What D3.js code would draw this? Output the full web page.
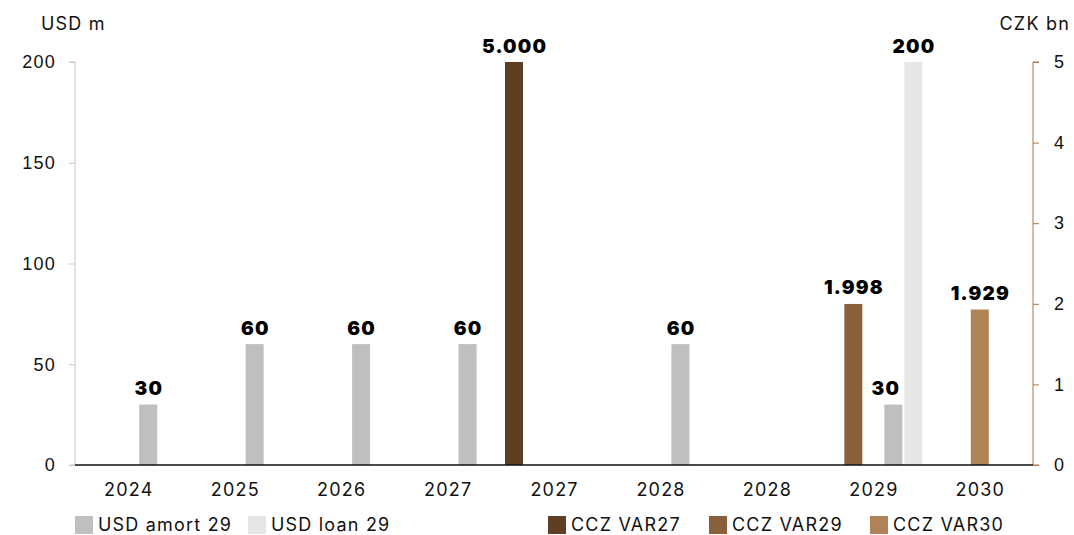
<!DOCTYPE html>
<html>
<head>
<meta charset="utf-8">
<script src="https://cdn.jsdelivr.net/npm/d3@7"></script>
<style>
  html, body { margin: 0; padding: 0; background: #fff; }
  svg { display: block; font-family: Inter, "Noto Sans", sans-serif; }
  .lbl { font-size: 18px; letter-spacing: 1.2px; fill: #111; }
</style>
</head>
<body>
<svg id="chart" width="1074" height="535"></svg>
<script>
// Categories along the x axis (years repeat for separate bond/loan slots)
const categories = ["2024", "2025", "2026", "2027", "2027", "2028", "2028", "2029", "2030"];

// USD series (left axis, USD m); null = no bar
const usdAmort29 = [30, 60, 60, 60, null, 60, null, 30, null];
const usdLoan29  = [null, null, null, null, null, null, null, 200, null];

// CZK series (right axis, CZK bn)
const cczVar27 = [null, null, null, null, 5.000, null, null, null, null];
const cczVar29 = [null, null, null, null, null, null, null, 1.998, null];
const cczVar30 = [null, null, null, null, null, null, null, null, 1.929];

// Axis ticks
const leftTicks  = [0, 50, 100, 150, 200];
const rightTicks = [0, 1, 2, 3, 4, 5];

const series = [
  { key: "CCZ VAR27",    values: cczVar27,   axis: "right", color: "#5f3f23", fmt: d3.format(".3f") },
  { key: "CCZ VAR29",    values: cczVar29,   axis: "right", color: "#8a603c", fmt: d3.format(".3f") },
  { key: "CCZ VAR30",    values: cczVar30,   axis: "right", color: "#b08258", fmt: d3.format(".3f") },
  { key: "USD amort 29", values: usdAmort29, axis: "left",  color: "#bfbfbf", fmt: d3.format("d") },
  { key: "USD loan 29",  values: usdLoan29,  axis: "left",  color: "#e6e6e6", fmt: d3.format("d") }
];

const svg = d3.select("#chart");
const plotLeft = 75, plotRight = 1033, plotTop = 62, plotBottom = 465;

const x = d3.scaleBand().domain(d3.range(categories.length)).range([plotLeft, plotRight]).padding(0);
const inner = d3.scaleBand().domain(series.map(s => s.key)).range([-50, 50]).padding(0);
const yL = d3.scaleLinear().domain([0, 200]).range([plotBottom, plotTop]);
const yR = d3.scaleLinear().domain([0, 5]).range([plotBottom, plotTop]);

const barW = 18;

// Left axis
const gL = svg.append("g").attr("transform", `translate(${plotLeft},0)`)
  .call(d3.axisLeft(yL).tickValues(leftTicks).tickSize(6).tickPadding(13).tickFormat(d3.format("d")));
gL.select(".domain").attr("stroke", "#c8c8c8").attr("d", `M-6,${plotTop}H0V${plotBottom}H-6`);
gL.selectAll(".tick line").attr("stroke", "#c8c8c8");
gL.selectAll(".tick text").attr("class", "lbl").attr("font-size", null).attr("font-family", null).attr("fill", null);

// Right axis
const gR = svg.append("g").attr("transform", `translate(${plotRight},0)`)
  .call(d3.axisRight(yR).tickValues(rightTicks).tickSize(6).tickPadding(15).tickFormat(d3.format("d")));
gR.select(".domain").attr("stroke", "#a77a4f").attr("d", `M6,${plotTop}H0V${plotBottom}H6`);
gR.selectAll(".tick line").attr("stroke", "#a77a4f");
gR.selectAll(".tick text").attr("class", "lbl").attr("font-size", null).attr("font-family", null).attr("fill", null);

// Bars and value labels
series.forEach(s => {
  const y = s.axis === "left" ? yL : yR;
  const data = s.values.map((v, i) => ({ i, v })).filter(d => d.v != null);
  const cx = d => x(d.i) + x.bandwidth() / 2 + inner(s.key) + inner.bandwidth() / 2;
  // a label whose neighbour bar to the right is taller gets nudged left
  const nudge = d => {
    const next = series[series.indexOf(s) + 1];
    if (!next || next.values[d.i] == null) return 0;
    const ny = next.axis === "left" ? yL : yR;
    return ny(next.values[d.i]) < y(d.v) ? -8 : 0;
  };
  svg.append("g").selectAll("rect").data(data).join("rect")
    .attr("x", d => cx(d) - barW / 2)
    .attr("y", d => y(d.v))
    .attr("width", barW)
    .attr("height", d => y(0) - y(d.v))
    .attr("fill", s.color);
  svg.append("g").selectAll("text").data(data).join("text")
    .attr("x", d => cx(d) + 0.6 + nudge(d))
    .attr("y", d => y(d.v) - 9.5)
    .attr("text-anchor", "middle")
    .attr("font-size", 19)
    .attr("font-weight", 900)
    .attr("letter-spacing", "1.2px")
    .attr("fill", "#000")
    .text(d => s.fmt(d.v));
});

// Baseline
svg.append("line").attr("x1", plotLeft).attr("x2", plotRight).attr("y1", plotBottom).attr("y2", plotBottom)
  .attr("stroke", "#111").attr("stroke-width", 1.6);

// Category labels
svg.append("g").selectAll("text").data(categories).join("text")
  .attr("class", "lbl")
  .attr("x", (d, i) => x(i) + x.bandwidth() / 2 + 0.6)
  .attr("y", 496)
  .attr("text-anchor", "middle")
  .text(d => d);

// Axis titles
svg.append("text").attr("class", "lbl").attr("x", 41).attr("y", 30).text("USD m");
svg.append("text").attr("class", "lbl").attr("x", 1070).attr("y", 30).attr("text-anchor", "end").text("CZK bn");

// Legend
const legendItems = [
  { key: "USD amort 29", x: 75 },
  { key: "USD loan 29",  x: 248 },
  { key: "CCZ VAR27",    x: 548 },
  { key: "CCZ VAR29",    x: 709 },
  { key: "CCZ VAR30",    x: 870 }
];
const colorOf = new Map(series.map(s => [s.key, s.color]));
const lg = svg.append("g").selectAll("g").data(legendItems).join("g")
  .attr("transform", d => `translate(${d.x},516)`);
lg.append("rect").attr("width", 18).attr("height", 18).attr("fill", d => colorOf.get(d.key));
lg.append("text").attr("class", "lbl").attr("x", 23).attr("y", 15).text(d => d.key);
</script>
</body>
</html>
